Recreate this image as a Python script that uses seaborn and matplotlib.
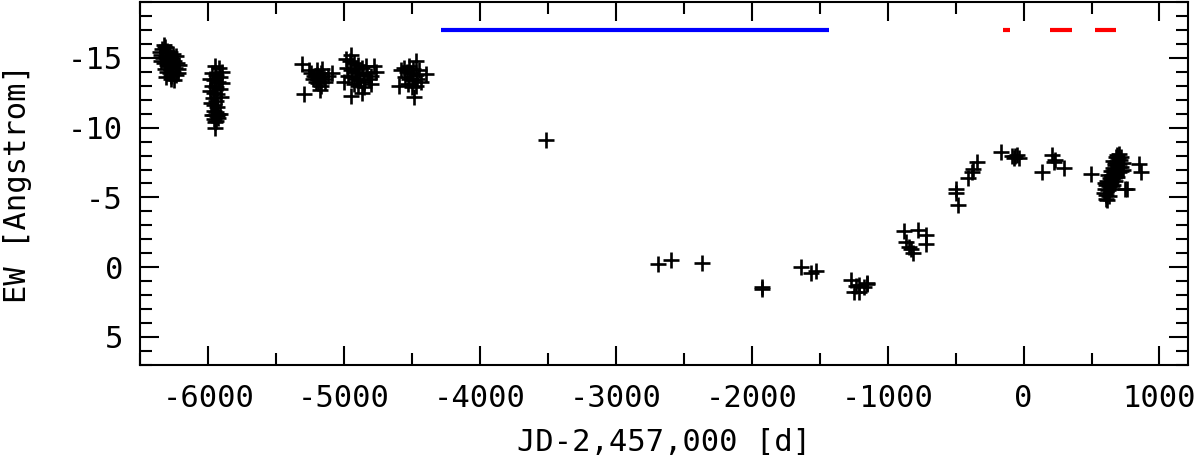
import matplotlib
matplotlib.use("Agg")
import matplotlib.pyplot as plt
import seaborn as sns
import pandas as pd
from matplotlib.ticker import MultipleLocator

# ---- data: JD-2457000 [d] and EW [Angstrom] ----
jd = [
    # cluster ~ -6300
    -6340, -6320, -6300, -6280, -6260, -6350, -6330, -6310, -6290, -6270, -6250, -6230,
    -6345, -6325, -6305, -6285, -6265, -6245, -6225, -6320, -6300, -6280, -6260, -6240,
    -6220, -6310, -6270, -6250, -6295, -6240, -6355, -6215, -6275, -6328,
    # cluster ~ -5950
    -5950, -5920, -5900, -5970, -5940, -5910, -5985, -5955, -5925, -5895, -5975, -5945,
    -5915, -5985, -5960, -5935, -5965, -5940, -5905, -5980, -5955, -5935,
    -5960, -5940, -5925, -5955, -5935, -5960, -5940, -5925, -5950, -5975, -5910, -5953,
    # cluster ~ -5200
    -5310, -5296, -5258, -5240, -5220, -5200, -5187, -5170, -5150, -5210, -5190, -5173,
    -5140, -5175, -5230, -5120, -5087, -5200, -5160,
    # cluster ~ -4900
    -4952, -4960, -4930, -4900, -4870, -4840, -4781, -4768, -4980, -4950, -4920, -4890,
    -4860, -4830, -4800, -4970, -4940, -4910, -4880, -4850, -4820, -5001, -4930, -4900,
    -4850, -4952, -4866, -4800, -4985, -4910,
    # cluster ~ -4500
    -4474, -4560, -4520, -4490, -4540, -4510, -4470, -4400, -4550, -4520, -4490, -4460,
    -4437, -4596, -4530, -4500, -4470, -4486, -4580, -4450,
    # sparse points
    -3517, -2688, -2597, -2369, -1928, -1925, -1641, -1567, -1530,
    -1273, -1248, -1236, -1212, -1175, -1155, -1214, -1150,
    -881, -778, -721, -868, -844, -812, -721, -831,
    -500, -500, -481, -407, -383, -370, -341,
    -169, -83, -71, -46, -35, -60,
    137, 211, 223, 228, 297, 493,
    # cluster ~ 650
    616, 603, 848, 861, 750, 763, 689, 701,
    590, 600, 610, 620, 630, 615, 625, 640, 635, 650, 645, 655, 660, 665, 670, 675,
    680, 690, 695, 700, 710, 720, 705, 715, 730, 685, 660, 640, 610, 625, 670,
    650, 620, 700, 680, 660, 600, 720, 735, 645,
]
ew = [
    -15.6, -15.8, -15.5, -15.4, -15.3, -15.2, -15.0, -15.1, -14.9, -15.0, -14.8, -14.6,
    -14.8, -14.6, -14.5, -14.4, -14.5, -14.3, -14.2, -14.2, -14.0, -13.9, -14.0, -13.8,
    -13.9, -13.6, -13.5, -13.4, -14.7, -15.1, -15.4, -14.5, -13.7, -15.9,
    -14.4, -14.3, -14.0, -13.9, -13.8, -13.6, -13.5, -13.4, -13.3, -13.2, -13.0, -12.9,
    -12.8, -12.6, -12.5, -12.4, -12.1, -11.9, -12.2, -11.8, -11.6, -11.5,
    -11.2, -11.1, -11.0, -10.9, -10.8, -10.6, -10.5, -10.7, -10.4, -10.9, -11.0, -10.0,
    -14.57, -12.43, -14.1, -13.9, -13.7, -13.8, -13.6, -13.9, -13.5, -13.3, -13.2, -13.0,
    -13.3, -12.7, -13.5, -13.7, -13.9, -14.1, -14.2,
    -15.2, -14.8, -14.6, -14.5, -14.3, -14.4, -14.45, -14.0, -14.3, -14.1, -14.0, -13.9,
    -13.8, -13.9, -13.7, -13.7, -13.6, -13.5, -13.4, -13.3, -13.5, -13.26, -13.1, -13.0,
    -12.9, -12.3, -12.5, -13.1, -14.9, -14.2,
    -14.8, -14.3, -14.4, -14.2, -14.0, -13.9, -13.8, -13.86, -13.6, -13.5, -13.4, -13.5,
    -13.26, -13.0, -13.1, -12.9, -13.0, -12.2, -14.1, -14.1,
    -9.1, -0.26, -0.52, -0.28, 1.43, 1.57, -0.03, 0.43, 0.3,
    0.9, 1.74, 1.38, 1.26, 1.43, 1.1, 1.74, 1.2,
    -2.6, -2.7, -2.3, -1.83, -1.43, -1.0, -1.66, -1.29,
    -5.64, -5.29, -4.45, -6.36, -6.83, -7.07, -7.54,
    -8.26, -7.97, -7.86, -8.02, -7.86, -7.95,
    -6.83, -8.02, -7.55, -7.66, -7.14, -6.71,
    -4.8, -4.9, -7.43, -6.83, -5.64, -5.57, -8.02, -8.14,
    -5.3, -5.6, -5.9, -5.5, -5.8, -6.2, -6.0, -6.1, -6.4, -6.6, -6.3, -6.9, -7.1, -6.7,
    -7.3, -7.5, -7.0, -7.6, -7.8, -7.4, -7.7, -7.9, -7.2, -6.9, -7.5, -6.5, -5.9, -5.6,
    -5.2, -5.1, -6.2,
    -5.8, -6.6, -6.8, -7.9, -7.6, -6.0, -7.2, -7.0, -6.9,
]

# horizontal bars at top (observing periods)
blue_start = [-4290]
blue_end = [-1430]
blue_level = [-17.0]
red_start = [-150, 194, 522]
red_end = [-100, 353, 679]
red_level = [-17.0, -17.0, -17.0]

xticks = [-6000, -5000, -4000, -3000, -2000, -1000, 0, 1000]
yticks = [-15, -10, -5, 0, 5]

df = pd.DataFrame({"jd": jd, "ew": ew})

sns.set_style("ticks")
plt.rcParams["font.family"] = ["DejaVu Sans Mono", "DejaVu Sans"]
plt.rcParams["text.color"] = "black"
plt.rcParams["axes.labelcolor"] = "black"

fig = plt.figure(figsize=(12, 4.55), dpi=100)
ax = fig.add_axes([0.1163, 0.198, 0.8737, 0.7975])

sns.scatterplot(data=df, x="jd", y="ew", marker="+", s=130, color="black",
                linewidth=1.9, ax=ax, legend=False)

ax.hlines(blue_level, blue_start, blue_end, colors="#0000ff", linewidth=3.0)
ax.hlines(red_level, red_start, red_end, colors="#ff0000", linewidth=3.0)

ax.set_xlim(-6505, 1210)
ax.set_ylim(7, -19)

ax.set_xticks(xticks)
ax.set_xticklabels([str(v) for v in xticks])
ax.set_yticks(yticks)
ax.set_yticklabels([str(v) for v in yticks])
ax.xaxis.set_minor_locator(MultipleLocator(500))
ax.yaxis.set_minor_locator(MultipleLocator(1))

ax.tick_params(which="both", direction="in", top=True, right=True,
               width=1.5, colors="black", labelsize=22)
ax.tick_params(which="major", length=14)
ax.tick_params(which="minor", length=8.5)
ax.tick_params(axis="x", pad=14)
ax.tick_params(axis="y", pad=12)

for sp in ax.spines.values():
    sp.set_visible(True)
    sp.set_linewidth(1.5)
    sp.set_color("black")

ax.set_xlabel("JD-2,457,000 [d]", fontsize=22, labelpad=10, color="black")
ax.set_ylabel("EW [Angstrom]", fontsize=22, labelpad=26, color="black")

fig.savefig("out.png", dpi=100)
